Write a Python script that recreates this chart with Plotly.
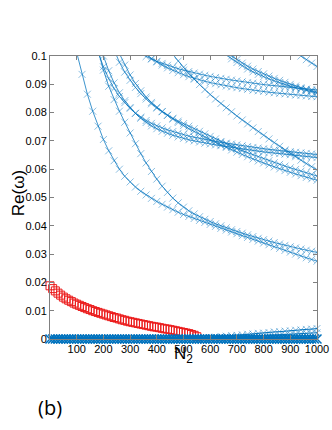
import plotly.graph_objects as go

STEP = 20  # spacing in N2 between samples of each blue branch

# Blue branches: first N2 of the branch and Re(omega) read every STEP from there
l1_start = 100
l1_re = [0.1012, 0.0935, 0.0865, 0.0805, 0.0752, 0.0705, 0.0665, 0.0630, 0.0600, 0.0575,
         0.0555, 0.0537, 0.0522, 0.0509, 0.0497, 0.0486, 0.0476, 0.0466, 0.0457, 0.0448,
         0.0440, 0.0433, 0.0426, 0.0419, 0.0412, 0.0405, 0.0398, 0.0391, 0.0385, 0.0378,
         0.0372, 0.0365, 0.0359, 0.0352, 0.0346, 0.0339, 0.0333, 0.0326, 0.0320, 0.0313,
         0.0307, 0.0300, 0.0294, 0.0287, 0.0281, 0.0275]

l2_start = 180
l2_re = [0.1020, 0.0950, 0.0893, 0.0846, 0.0805, 0.0766, 0.0728, 0.0690, 0.0655, 0.0622,
         0.0592, 0.0565, 0.0540, 0.0518, 0.0498, 0.0481, 0.0466, 0.0453, 0.0442, 0.0432,
         0.0423, 0.0415, 0.0407, 0.0400, 0.0393, 0.0386, 0.0380, 0.0374, 0.0368, 0.0362,
         0.0356, 0.0351, 0.0346, 0.0341, 0.0336, 0.0331, 0.0326, 0.0322, 0.0318, 0.0314,
         0.0310, 0.0306]

p1_start = 180
p1_re = [0.1015, 0.0962, 0.0920, 0.0885, 0.0857, 0.0835, 0.0815, 0.0798, 0.0784, 0.0772,
         0.0762, 0.0753, 0.0746, 0.0739, 0.0733, 0.0727, 0.0722, 0.0717, 0.0713, 0.0709,
         0.0705, 0.0701, 0.0698, 0.0695, 0.0692, 0.0689, 0.0686, 0.0683, 0.0680, 0.0677,
         0.0675, 0.0672, 0.0670, 0.0668, 0.0666, 0.0664, 0.0662, 0.0660, 0.0658, 0.0656,
         0.0654, 0.0652]

p2_start = 200
p2_re = [0.1000, 0.0948, 0.0905, 0.0870, 0.0842, 0.0818, 0.0797, 0.0780, 0.0765, 0.0753,
         0.0743, 0.0734, 0.0727, 0.0720, 0.0714, 0.0709, 0.0704, 0.0700, 0.0696, 0.0692,
         0.0689, 0.0686, 0.0683, 0.0680, 0.0677, 0.0674, 0.0671, 0.0669, 0.0666, 0.0664,
         0.0661, 0.0659, 0.0657, 0.0655, 0.0653, 0.0651, 0.0649, 0.0647, 0.0645, 0.0643,
         0.0641]

q1_start = 240
q1_re = [0.1022, 0.0978, 0.0943, 0.0914, 0.0889, 0.0867, 0.0848, 0.0831, 0.0816, 0.0803,
         0.0791, 0.0780, 0.0770, 0.0761, 0.0752, 0.0743, 0.0734, 0.0725, 0.0716, 0.0707,
         0.0698, 0.0689, 0.0681, 0.0673, 0.0665, 0.0658, 0.0651, 0.0644, 0.0637, 0.0630,
         0.0623, 0.0617, 0.0611, 0.0605, 0.0599, 0.0593, 0.0587, 0.0581, 0.0576]

q2_start = 260
q2_re = [0.1008, 0.0968, 0.0933, 0.0903, 0.0877, 0.0855, 0.0836, 0.0819, 0.0804, 0.0790,
         0.0777, 0.0765, 0.0754, 0.0743, 0.0733, 0.0723, 0.0713, 0.0704, 0.0695, 0.0686,
         0.0677, 0.0668, 0.0660, 0.0652, 0.0644, 0.0636, 0.0629, 0.0622, 0.0615, 0.0608,
         0.0601, 0.0595, 0.0589, 0.0583, 0.0577, 0.0571, 0.0566, 0.0561]

t4a_start = 340
t4a_re = [0.1008, 0.0998, 0.0989, 0.0981, 0.0974, 0.0967, 0.0961, 0.0955, 0.0950, 0.0945,
          0.0940, 0.0936, 0.0932, 0.0928, 0.0924, 0.0921, 0.0918, 0.0915, 0.0912, 0.0909,
          0.0906, 0.0904, 0.0901, 0.0899, 0.0897, 0.0895, 0.0893, 0.0891, 0.0889, 0.0887,
          0.0885, 0.0883, 0.0881, 0.0880]

t4b_start = 360
t4b_re = [0.1004, 0.0991, 0.0979, 0.0968, 0.0958, 0.0949, 0.0941, 0.0934, 0.0927, 0.0921,
          0.0916, 0.0911, 0.0906, 0.0902, 0.0898, 0.0894, 0.0891, 0.0888, 0.0885, 0.0882,
          0.0879, 0.0877, 0.0875, 0.0872, 0.0870, 0.0868, 0.0866, 0.0864, 0.0862, 0.0861,
          0.0859, 0.0857, 0.0856]

t5_start = 460
t5_re = [0.1006, 0.0982, 0.0960, 0.0938, 0.0918, 0.0899, 0.0881, 0.0864, 0.0848, 0.0832,
         0.0817, 0.0803, 0.0788, 0.0774, 0.0760, 0.0746, 0.0733, 0.0720, 0.0707, 0.0694,
         0.0681, 0.0668, 0.0656, 0.0644, 0.0632, 0.0620, 0.0609, 0.0598]

t6a_start = 660
t6a_re = [0.1003, 0.0990, 0.0977, 0.0965, 0.0954, 0.0944, 0.0935, 0.0927, 0.0919, 0.0912,
          0.0905, 0.0899, 0.0893, 0.0888, 0.0883, 0.0878, 0.0873, 0.0869]

t6b_start = 680
t6b_re = [0.1000, 0.0987, 0.0975, 0.0964, 0.0954, 0.0945, 0.0937, 0.0929, 0.0921, 0.0914,
          0.0907, 0.0900, 0.0894, 0.0888, 0.0882, 0.0877, 0.0872]

t7_start = 940
t7_re = [0.1000, 0.0987, 0.0975, 0.0963]

# near-zero eigenvalues
zero_start = 0
zero_step = 10
zero_re = [0.0] * 101

u1_start = 560
u1_re = [0.0002, 0.0004, 0.0005, 0.0007, 0.0009, 0.0010, 0.0012, 0.0013, 0.0015, 0.0017,
         0.0018, 0.0020, 0.0021, 0.0023, 0.0025, 0.0026, 0.0028, 0.0029, 0.0031, 0.0032,
         0.0034, 0.0035, 0.0037]

u2_start = 600
u2_re = [0.0002, 0.0003, 0.0004, 0.0005, 0.0006, 0.0007, 0.0008, 0.0009, 0.0010, 0.0011,
         0.0012, 0.0013, 0.0014, 0.0015, 0.0016, 0.0017, 0.0018, 0.0019, 0.0020, 0.0021,
         0.0022]

# red branch, every 10 in N2 from 0
red_start = 0
red_step = 10
red_re = [0.0188, 0.0178, 0.0170, 0.0162, 0.0155, 0.0148, 0.0142, 0.0137, 0.0132, 0.0127,
          0.0123, 0.0119, 0.0115, 0.0111, 0.0107, 0.0104, 0.0100, 0.0097, 0.0094, 0.0091,
          0.0088, 0.0085, 0.0082, 0.0079, 0.0076, 0.0074, 0.0071, 0.0068, 0.0066, 0.0063,
          0.0061, 0.0059, 0.0057, 0.0055, 0.0053, 0.0051, 0.0049, 0.0047, 0.0045, 0.0043,
          0.0042, 0.0040, 0.0038, 0.0036, 0.0035, 0.0033, 0.0031, 0.0029, 0.0027, 0.0025,
          0.0023, 0.0021, 0.0019, 0.0016, 0.0013, 0.0008]

x_ticks = [100, 200, 300, 400, 500, 600, 700, 800, 900, 1000]
y_ticks = [0, 0.01, 0.02, 0.03, 0.04, 0.05, 0.06, 0.07, 0.08, 0.09, 0.1]
y_ticktext = ["0", "0.01", "0.02", "0.03", "0.04", "0.05", "0.06", "0.07", "0.08", "0.09", "0.1"]

BLUE = "rgb(0,114,189)"
BLUE_LIGHT = "rgba(0,114,189,0.45)"
RED = "rgb(235,25,25)"


def n_axis(start, values, step=STEP):
    return [start + step * i for i in range(len(values))]


fig = go.Figure()

branches = [(l1_start, l1_re), (l2_start, l2_re), (p1_start, p1_re), (p2_start, p2_re),
            (q1_start, q1_re), (q2_start, q2_re), (t4a_start, t4a_re), (t4b_start, t4b_re),
            (t5_start, t5_re), (t6a_start, t6a_re), (t6b_start, t6b_re), (t7_start, t7_re)]
for start, vals in branches:
    fig.add_trace(go.Scatter(
        x=n_axis(start, vals), y=vals, mode="lines+markers",
        line=dict(color="rgba(0,114,189,0.85)", width=0.9),
        marker=dict(symbol="x-thin", size=7, line=dict(width=1, color=BLUE_LIGHT))))

fig.add_trace(go.Scatter(
    x=n_axis(red_start, red_re, red_step), y=red_re, mode="markers", cliponaxis=False,
    marker=dict(symbol="square-open", size=8, color=RED, line=dict(width=1, color=RED))))

for start, vals in [(u1_start, u1_re), (u2_start, u2_re)]:
    fig.add_trace(go.Scatter(
        x=n_axis(start, vals), y=vals, mode="lines+markers", cliponaxis=False,
        line=dict(color=BLUE, width=1),
        marker=dict(symbol="x-thin", size=7, line=dict(width=1, color=BLUE_LIGHT))))

fig.add_trace(go.Scatter(
    x=n_axis(zero_start, zero_re, zero_step), y=zero_re, mode="lines+markers",
    cliponaxis=False, line=dict(color=BLUE, width=5),
    marker=dict(symbol="x-thin", size=9, line=dict(width=1.5, color=BLUE))))

axis_font = dict(family="Liberation Sans, Arial", size=11, color="black")
title_font = dict(family="Liberation Sans, Arial", size=17, color="black")
fig.update_layout(
    width=332, height=430,
    margin=dict(l=50, r=15, t=56, b=91, autoexpand=False),
    paper_bgcolor="white", plot_bgcolor="white",
    showlegend=False,
    xaxis=dict(range=[0, 1000], tickvals=x_ticks, ticks="inside", ticklen=4,
               tickcolor="#808080", showline=True, linecolor="#808080", linewidth=1,
               mirror="allticks", showgrid=False, zeroline=False, tickfont=axis_font,
               automargin=False),
    yaxis=dict(range=[0, 0.1], tickvals=y_ticks, ticktext=y_ticktext, ticks="inside",
               ticklen=4, tickcolor="#808080", showline=True, linecolor="#808080",
               linewidth=1, mirror="allticks", showgrid=False, zeroline=False,
               tickfont=axis_font, automargin=False),
    annotations=[
        dict(text="Re(ω)", xref="paper", yref="paper", x=-0.12, y=0.515, textangle=-90,
             xanchor="center", yanchor="middle", showarrow=False, font=title_font),
        dict(text="N<sub>2</sub>", xref="paper", yref="paper", x=0.5, y=-0.055,
             xanchor="center", yanchor="middle", showarrow=False, font=title_font),
        dict(text="(b)", xref="paper", yref="paper", x=0.0, y=-0.242,
             xanchor="center", yanchor="middle", showarrow=False,
             font=dict(family="Open Sans", size=20, color="black")),
    ],
)

# drop the browser's default page margin so the figure sits at the window corner
fig.write_html("out.html", config={"displayModeBar": False},
               post_script="document.body.style.margin = '0px';")
